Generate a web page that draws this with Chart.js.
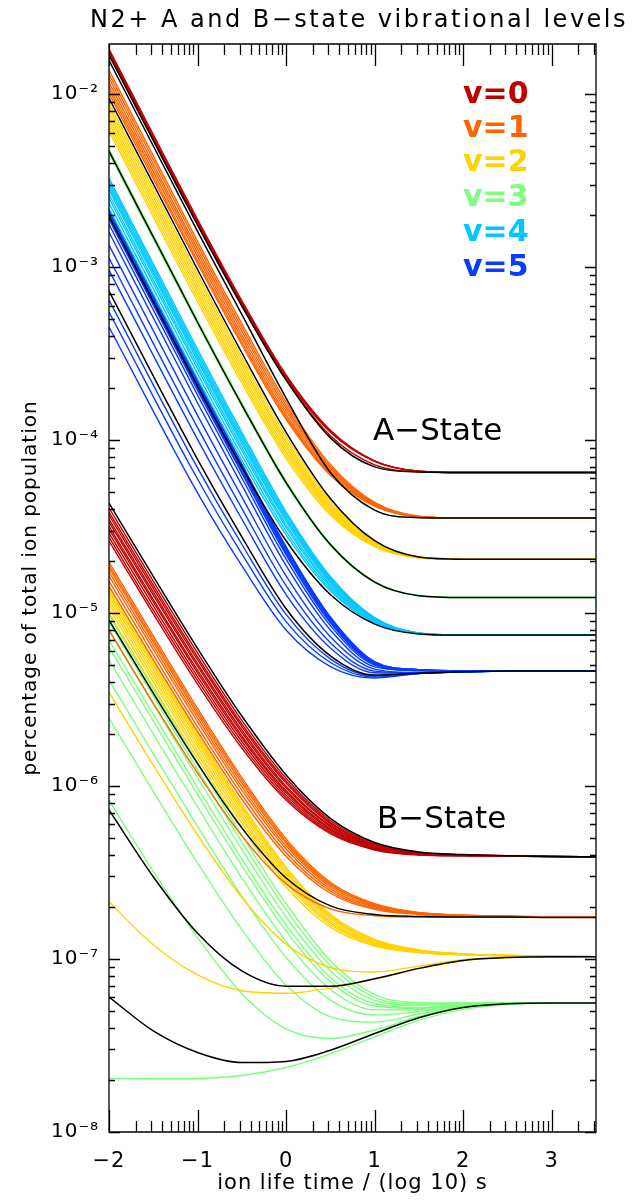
<!DOCTYPE html>
<html><head><meta charset="utf-8">
<script src="https://cdn.jsdelivr.net/npm/chart.js@4.4.1/dist/chart.umd.min.js"></script>
<style>html,body{margin:0;padding:0;background:#fff;}canvas{display:block;}</style>
</head><body>
<canvas id="c" width="632" height="1200"></canvas>
<script>
// ---- data (x = log10 of ion life time in s, y = fraction of total ion population) ----
const logTimeA = [-2, -1, -0.5, 0, 0.5, 1, 1.5, 2, 2.5, 3.5];
const logTimeB = [-2, -1.5, -1, -0.5, 0, 0.5, 1, 1.5, 2, 2.5, 3, 3.5];
const xTickValues = [-2, -1, 0, 1, 2, 3];
const xTickLabels = ['\u22122', '\u22121', '0', '1', '2', '3'];
const yTickValues = [1e-8, 1e-7, 1e-6, 1e-5, 1e-4, 1e-3, 1e-2];
const yTickLabels = ['10\u207B\u2078', '10\u207B\u2077', '10\u207B\u2076', '10\u207B\u2075', '10\u207B\u2074', '10\u207B\u00B3', '10\u207B\u00B2'];
const levelLabels = ['v=0', 'v=1', 'v=2', 'v=3', 'v=4', 'v=5'];
const levelColors = ['#c00000', '#ff6400', '#ffd200', '#7dff7d', '#00c8ff', '#0a3cff'];
const chartTitle = 'N2+ A and B\u2212state vibrational levels';
const xTitle = 'ion life time / (log 10) s';
const yTitle = 'percentage of total ion population';

// A-state (sampled at logTimeA)
const aStateV0 = [
  [1.82e-2, 1.89e-3, 6.40e-4, 2.38e-4, 1.14e-4, 7.59e-5, 6.61e-5, 6.50e-5, 6.5e-5, 6.5e-5],
  [1.77e-2, 1.84e-3, 6.26e-4, 2.34e-4, 1.13e-4, 7.56e-5, 6.61e-5, 6.50e-5, 6.5e-5, 6.5e-5],
  [1.75e-2, 1.81e-3, 6.15e-4, 2.25e-4, 1.06e-4, 7.20e-5, 6.56e-5, 6.50e-5, 6.5e-5, 6.5e-5],
  [1.73e-2, 1.79e-3, 6.11e-4, 2.29e-4, 1.11e-4, 7.54e-5, 6.61e-5, 6.50e-5, 6.5e-5, 6.5e-5]
];
const aStateV0Ref = [1.68e-2, 1.75e-3, 5.96e-4, 2.22e-4, 1.03e-4, 7.00e-5, 6.54e-5, 6.50e-5, 6.5e-5, 6.5e-5];
const aStateV1 = [
  [1.38e-2, 1.41e-3, 4.71e-4, 1.66e-4, 7.24e-5, 4.37e-5, 3.63e-5, 3.54e-5, 3.54e-5, 3.54e-5],
  [1.31e-2, 1.34e-3, 4.48e-4, 1.59e-4, 7.05e-5, 4.32e-5, 3.62e-5, 3.54e-5, 3.54e-5, 3.54e-5],
  [1.24e-2, 1.27e-3, 4.27e-4, 1.53e-4, 6.87e-5, 4.28e-5, 3.62e-5, 3.54e-5, 3.54e-5, 3.54e-5],
  [1.17e-2, 1.21e-3, 4.06e-4, 1.47e-4, 6.70e-5, 4.24e-5, 3.61e-5, 3.54e-5, 3.54e-5, 3.54e-5],
  [1.11e-2, 1.15e-3, 3.87e-4, 1.41e-4, 6.53e-5, 4.21e-5, 3.61e-5, 3.54e-5, 3.54e-5, 3.54e-5],
  [1.06e-2, 1.09e-3, 3.69e-4, 1.36e-4, 6.38e-5, 4.17e-5, 3.61e-5, 3.54e-5, 3.54e-5, 3.54e-5],
  [1.01e-2, 1.05e-3, 3.56e-4, 1.32e-4, 6.27e-5, 4.15e-5, 3.60e-5, 3.54e-5, 3.54e-5, 3.54e-5]
];
const aStateV1Ref = [1.57e-2, 1.61e-3, 5.33e-4, 1.75e-4, 6.50e-5, 3.94e-5, 3.56e-5, 3.54e-5, 3.54e-5, 3.54e-5];
const aStateV2 = [
  [8.87e-3, 9.08e-4, 3.01e-4, 1.05e-4, 4.44e-5, 2.58e-5, 2.11e-5, 2.05e-5, 2.05e-5, 2.05e-5],
  [8.41e-3, 8.62e-4, 2.86e-4, 1.00e-4, 4.31e-5, 2.56e-5, 2.10e-5, 2.05e-5, 2.05e-5, 2.05e-5],
  [7.97e-3, 8.18e-4, 2.73e-4, 9.62e-5, 4.19e-5, 2.53e-5, 2.10e-5, 2.05e-5, 2.05e-5, 2.05e-5],
  [7.56e-3, 7.77e-4, 2.60e-4, 9.23e-5, 4.08e-5, 2.50e-5, 2.10e-5, 2.05e-5, 2.05e-5, 2.05e-5],
  [7.17e-3, 7.38e-4, 2.47e-4, 8.86e-5, 3.98e-5, 2.48e-5, 2.10e-5, 2.05e-5, 2.05e-5, 2.05e-5],
  [6.80e-3, 7.01e-4, 2.36e-4, 8.51e-5, 3.88e-5, 2.46e-5, 2.09e-5, 2.05e-5, 2.05e-5, 2.05e-5],
  [6.45e-3, 6.66e-4, 2.25e-4, 8.18e-5, 3.79e-5, 2.44e-5, 2.09e-5, 2.05e-5, 2.05e-5, 2.05e-5],
  [6.11e-3, 6.32e-4, 2.14e-4, 7.85e-5, 3.69e-5, 2.42e-5, 2.09e-5, 2.05e-5, 2.05e-5, 2.05e-5]
];
const aStateV2Ref = [9.48e-3, 9.69e-4, 3.20e-4, 1.11e-4, 4.60e-5, 2.62e-5, 2.11e-5, 2.05e-5, 2.05e-5, 2.05e-5];
const aStateV3 = [
  [4.81e-3, 4.93e-4, 1.64e-4, 5.80e-5, 2.52e-5, 1.52e-5, 1.26e-5, 1.23e-5, 1.23e-5, 1.23e-5],
  [4.56e-3, 4.68e-4, 1.57e-4, 5.56e-5, 2.46e-5, 1.50e-5, 1.26e-5, 1.23e-5, 1.23e-5, 1.23e-5]
];
const aStateV3Ref = [4.68e-3, 4.80e-4, 1.60e-4, 5.68e-5, 2.49e-5, 1.51e-5, 1.26e-5, 1.23e-5, 1.23e-5, 1.23e-5];
const aStateV4 = [
  [3.27e-3, 3.35e-4, 1.11e-4, 3.85e-5, 1.63e-5, 9.42e-6, 7.67e-6, 7.46e-6, 7.46e-6, 7.46e-6],
  [3.14e-3, 3.22e-4, 1.07e-4, 3.73e-5, 1.59e-5, 9.34e-6, 7.66e-6, 7.46e-6, 7.46e-6, 7.46e-6],
  [3.02e-3, 3.10e-4, 1.03e-4, 3.62e-5, 1.56e-5, 9.27e-6, 7.65e-6, 7.46e-6, 7.46e-6, 7.46e-6],
  [2.90e-3, 2.98e-4, 9.92e-5, 3.50e-5, 1.53e-5, 9.20e-6, 7.64e-6, 7.46e-6, 7.46e-6, 7.46e-6],
  [2.79e-3, 2.87e-4, 9.57e-5, 3.40e-5, 1.50e-5, 9.13e-6, 7.64e-6, 7.46e-6, 7.46e-6, 7.46e-6],
  [2.64e-3, 2.72e-4, 9.10e-5, 3.25e-5, 1.46e-5, 9.04e-6, 7.63e-6, 7.46e-6, 7.46e-6, 7.46e-6],
  [2.51e-3, 2.59e-4, 8.69e-5, 3.13e-5, 1.42e-5, 8.97e-6, 7.62e-6, 7.46e-6, 7.46e-6, 7.46e-6],
  [2.34e-3, 2.42e-4, 8.15e-5, 2.97e-5, 1.38e-5, 8.86e-6, 7.61e-6, 7.46e-6, 7.46e-6, 7.46e-6],
  [2.19e-3, 2.27e-4, 7.67e-5, 2.83e-5, 1.34e-5, 8.77e-6, 7.60e-6, 7.46e-6, 7.46e-6, 7.46e-6]
];
const aStateV4Ref = [1.97e-3, 2.05e-4, 6.98e-5, 2.62e-5, 1.28e-5, 8.64e-6, 7.58e-6, 7.46e-6, 7.46e-6, 7.46e-6];
const aStateV5 = [
  [2.16e-3, 2.21e-4, 7.29e-5, 2.42e-5, 9.51e-6, 5.24e-6, 4.70e-6, 4.63e-6, 4.63e-6, 4.63e-6],
  [2.12e-3, 2.17e-4, 7.16e-5, 2.38e-5, 9.40e-6, 5.21e-6, 4.70e-6, 4.63e-6, 4.63e-6, 4.63e-6],
  [2.08e-3, 2.13e-4, 7.04e-5, 2.35e-5, 9.30e-6, 5.19e-6, 4.70e-6, 4.63e-6, 4.63e-6, 4.63e-6],
  [2.04e-3, 2.09e-4, 6.91e-5, 2.31e-5, 9.19e-6, 5.16e-6, 4.69e-6, 4.63e-6, 4.63e-6, 4.63e-6],
  [2.00e-3, 2.05e-4, 6.79e-5, 2.27e-5, 9.08e-6, 5.14e-6, 4.69e-6, 4.63e-6, 4.63e-6, 4.63e-6],
  [1.94e-3, 1.99e-4, 6.59e-5, 2.21e-5, 8.92e-6, 5.10e-6, 4.68e-6, 4.63e-6, 4.63e-6, 4.63e-6],
  [1.89e-3, 1.94e-4, 6.44e-5, 2.17e-5, 8.78e-6, 5.07e-6, 4.68e-6, 4.63e-6, 4.63e-6, 4.63e-6],
  [1.77e-3, 1.82e-4, 6.06e-5, 2.05e-5, 8.46e-6, 5.00e-6, 4.65e-6, 4.63e-6, 4.63e-6, 4.63e-6],
  [1.59e-3, 1.64e-4, 5.49e-5, 1.88e-5, 7.98e-6, 4.89e-6, 4.64e-6, 4.63e-6, 4.63e-6, 4.63e-6],
  [1.34e-3, 1.39e-4, 4.70e-5, 1.64e-5, 7.30e-6, 4.74e-6, 4.52e-6, 4.58e-6, 4.63e-6, 4.63e-6],
  [1.13e-3, 1.18e-4, 4.03e-5, 1.44e-5, 6.74e-6, 4.62e-6, 4.51e-6, 4.58e-6, 4.63e-6, 4.63e-6],
  [9.61e-4, 1.01e-4, 3.50e-5, 1.28e-5, 6.29e-6, 4.52e-6, 4.50e-6, 4.58e-6, 4.63e-6, 4.63e-6],
  [6.45e-4, 6.91e-5, 2.50e-5, 9.83e-6, 5.44e-6, 4.33e-6, 4.48e-6, 4.58e-6, 4.63e-6, 4.63e-6],
  [5.50e-4, 5.96e-5, 2.20e-5, 8.93e-6, 5.18e-6, 4.27e-6, 4.47e-6, 4.58e-6, 4.63e-6, 4.63e-6],
  [4.50e-4, 4.96e-5, 1.88e-5, 7.98e-6, 4.91e-6, 4.21e-6, 4.47e-6, 4.58e-6, 4.63e-6, 4.63e-6]
];
const aStateV5Ref = [7.27e-4, 7.73e-5, 2.76e-5, 1.06e-5, 5.66e-6, 4.38e-6, 4.49e-6, 4.58e-6, 4.63e-6, 4.63e-6];

// B-state (sampled at logTimeB)
const bStateV0 = [
  [4.05e-5, 1.53e-5, 5.88e-6, 2.40e-6, 1.11e-6, 6.32e-7, 4.65e-7, 4.13e-7, 4.01e-7, 3.95e-7, 3.92e-7, 3.9e-7],
  [3.84e-5, 1.45e-5, 5.59e-6, 2.29e-6, 1.07e-6, 6.17e-7, 4.59e-7, 4.11e-7, 4.00e-7, 3.95e-7, 3.92e-7, 3.9e-7],
  [3.69e-5, 1.39e-5, 5.38e-6, 2.21e-6, 1.04e-6, 6.06e-7, 4.55e-7, 4.10e-7, 3.99e-7, 3.95e-7, 3.92e-7, 3.9e-7],
  [3.49e-5, 1.32e-5, 5.10e-6, 2.11e-6, 9.98e-7, 5.92e-7, 4.50e-7, 4.08e-7, 3.99e-7, 3.95e-7, 3.92e-7, 3.9e-7],
  [3.36e-5, 1.27e-5, 4.93e-6, 2.04e-6, 9.73e-7, 5.83e-7, 4.47e-7, 4.07e-7, 3.98e-7, 3.94e-7, 3.92e-7, 3.9e-7],
  [3.18e-5, 1.20e-5, 4.68e-6, 1.95e-6, 9.39e-7, 5.70e-7, 4.42e-7, 4.05e-7, 3.97e-7, 3.94e-7, 3.91e-7, 3.9e-7],
  [3.06e-5, 1.16e-5, 4.51e-6, 1.89e-6, 9.16e-7, 5.62e-7, 4.39e-7, 4.04e-7, 3.97e-7, 3.94e-7, 3.91e-7, 3.9e-7],
  [2.90e-5, 1.10e-5, 4.29e-6, 1.81e-6, 8.86e-7, 5.50e-7, 4.35e-7, 4.02e-7, 3.96e-7, 3.94e-7, 3.91e-7, 3.9e-7],
  [2.75e-5, 1.04e-5, 4.08e-6, 1.73e-6, 8.57e-7, 5.40e-7, 4.31e-7, 4.01e-7, 3.96e-7, 3.94e-7, 3.91e-7, 3.9e-7],
  [2.61e-5, 9.91e-6, 3.89e-6, 1.66e-6, 8.30e-7, 5.30e-7, 4.27e-7, 3.99e-7, 3.95e-7, 3.93e-7, 3.91e-7, 3.9e-7]
];
const bStateV0Ref = [4.32e-5, 1.63e-5, 6.25e-6, 2.54e-6, 1.16e-6, 6.51e-7, 4.72e-7, 4.16e-7, 4.02e-7, 3.96e-7, 3.92e-7, 3.9e-7];
const bStateV1 = [
  [1.97e-5, 7.38e-6, 2.81e-6, 1.12e-6, 4.95e-7, 2.78e-7, 2.09e-7, 1.86e-7, 1.79e-7, 1.77e-7, 1.75e-7, 1.74e-7],
  [1.89e-5, 7.08e-6, 2.70e-6, 1.08e-6, 4.80e-7, 2.72e-7, 2.06e-7, 1.85e-7, 1.79e-7, 1.77e-7, 1.75e-7, 1.74e-7],
  [1.82e-5, 6.82e-6, 2.60e-6, 1.04e-6, 4.67e-7, 2.67e-7, 2.05e-7, 1.85e-7, 1.79e-7, 1.76e-7, 1.75e-7, 1.74e-7],
  [1.73e-5, 6.49e-6, 2.48e-6, 9.93e-7, 4.50e-7, 2.61e-7, 2.02e-7, 1.84e-7, 1.78e-7, 1.76e-7, 1.75e-7, 1.74e-7],
  [1.64e-5, 6.16e-6, 2.36e-6, 9.47e-7, 4.33e-7, 2.54e-7, 2.00e-7, 1.83e-7, 1.78e-7, 1.76e-7, 1.75e-7, 1.74e-7],
  [1.53e-5, 5.75e-6, 2.20e-6, 8.91e-7, 4.12e-7, 2.47e-7, 1.97e-7, 1.82e-7, 1.78e-7, 1.76e-7, 1.75e-7, 1.74e-7],
  [1.43e-5, 5.38e-6, 2.07e-6, 8.39e-7, 3.93e-7, 2.40e-7, 1.94e-7, 1.81e-7, 1.77e-7, 1.76e-7, 1.75e-7, 1.74e-7],
  [7.97e-6, 3.02e-6, 1.19e-6, 5.15e-7, 2.72e-7, 1.95e-7, 1.78e-7, 1.75e-7, 1.75e-7, 1.75e-7, 1.74e-7, 1.74e-7]
];
const bStateV1Ref = [9.11e-6, 3.45e-6, 1.35e-6, 5.73e-7, 2.94e-7, 2.03e-7, 1.81e-7, 1.76e-7, 1.75e-7, 1.75e-7, 1.74e-7, 1.74e-7];
const bStateV2 = [
  [1.41e-5, 5.28e-6, 2.00e-6, 7.86e-7, 3.40e-7, 1.82e-7, 1.30e-7, 1.13e-7, 1.07e-7, 1.05e-7, 1.04e-7, 1.03e-7],
  [1.36e-5, 5.09e-6, 1.93e-6, 7.61e-7, 3.30e-7, 1.78e-7, 1.28e-7, 1.12e-7, 1.07e-7, 1.05e-7, 1.04e-7, 1.03e-7],
  [1.31e-5, 4.90e-6, 1.86e-6, 7.35e-7, 3.20e-7, 1.75e-7, 1.27e-7, 1.12e-7, 1.07e-7, 1.05e-7, 1.04e-7, 1.03e-7],
  [1.25e-5, 4.68e-6, 1.78e-6, 7.04e-7, 3.09e-7, 1.71e-7, 1.25e-7, 1.11e-7, 1.06e-7, 1.05e-7, 1.04e-7, 1.03e-7],
  [1.19e-5, 4.46e-6, 1.70e-6, 6.73e-7, 2.98e-7, 1.66e-7, 1.24e-7, 1.11e-7, 1.06e-7, 1.05e-7, 1.04e-7, 1.03e-7],
  [1.13e-5, 4.24e-6, 1.61e-6, 6.43e-7, 2.86e-7, 1.62e-7, 1.22e-7, 1.10e-7, 1.06e-7, 1.05e-7, 1.04e-7, 1.03e-7],
  [1.07e-5, 4.01e-6, 1.53e-6, 6.12e-7, 2.75e-7, 1.58e-7, 1.21e-7, 1.09e-7, 1.06e-7, 1.04e-7, 1.03e-7, 1.03e-7],
  [1.00e-5, 3.75e-6, 1.44e-6, 5.76e-7, 2.61e-7, 1.53e-7, 1.19e-7, 1.09e-7, 1.06e-7, 1.04e-7, 1.03e-7, 1.03e-7],
  [3.49e-6, 1.32e-6, 5.22e-7, 2.27e-7, 1.22e-7, 8.93e-8, 8.42e-8, 9.10e-8, 9.91e-8, 1.02e-7, 1.03e-7, 1.03e-7],
  [2.14e-7, 1.21e-7, 8.10e-8, 6.55e-8, 6.34e-8, 6.79e-8, 7.65e-8, 8.80e-8, 9.80e-8, 1.02e-7, 1.03e-7, 1.03e-7]
];
const bStateV2Ref = [7.27e-7, 2.99e-7, 1.41e-7, 8.54e-8, 6.97e-8, 6.97e-8, 7.70e-8, 8.83e-8, 9.80e-8, 1.02e-7, 1.03e-7, 1.03e-7];
const bStateV3 = [
  [9.73e-6, 3.63e-6, 1.36e-6, 5.20e-7, 2.09e-7, 9.77e-8, 6.23e-8, 5.60e-8, 5.57e-8, 5.57e-8, 5.57e-8, 5.57e-8],
  [8.87e-6, 3.31e-6, 1.24e-6, 4.76e-7, 1.93e-7, 9.17e-8, 6.01e-8, 5.50e-8, 5.56e-8, 5.57e-8, 5.57e-8, 5.57e-8],
  [7.97e-6, 2.97e-6, 1.12e-6, 4.30e-7, 1.75e-7, 8.53e-8, 5.77e-8, 5.40e-8, 5.53e-8, 5.57e-8, 5.57e-8, 5.57e-8],
  [6.98e-6, 2.61e-6, 9.81e-7, 3.79e-7, 1.57e-7, 7.83e-8, 5.51e-8, 5.25e-8, 5.49e-8, 5.56e-8, 5.57e-8, 5.57e-8],
  [6.36e-6, 2.38e-6, 8.96e-7, 3.47e-7, 1.45e-7, 7.39e-8, 5.35e-8, 5.19e-8, 5.47e-8, 5.56e-8, 5.57e-8, 5.57e-8],
  [5.35e-6, 2.00e-6, 7.57e-7, 2.95e-7, 1.26e-7, 6.67e-8, 5.08e-8, 5.09e-8, 5.43e-8, 5.55e-8, 5.57e-8, 5.57e-8],
  [4.10e-6, 1.54e-6, 5.84e-7, 2.31e-7, 1.02e-7, 5.79e-8, 4.75e-8, 4.97e-8, 5.39e-8, 5.55e-8, 5.57e-8, 5.57e-8],
  [2.47e-6, 9.31e-7, 3.59e-7, 1.48e-7, 7.07e-8, 4.63e-8, 4.32e-8, 4.81e-8, 5.33e-8, 5.54e-8, 5.57e-8, 5.57e-8],
  [8.30e-7, 3.21e-7, 1.33e-7, 6.32e-8, 3.94e-8, 3.47e-8, 3.89e-8, 4.65e-8, 5.27e-8, 5.52e-8, 5.57e-8, 5.57e-8],
  [2.05e-8, 2.03e-8, 2.04e-8, 2.12e-8, 2.36e-8, 2.83e-8, 3.55e-8, 4.42e-8, 5.12e-8, 5.46e-8, 5.56e-8, 5.57e-8]
];
const bStateV3Ref = [6.03e-8, 3.84e-8, 2.88e-8, 2.52e-8, 2.56e-8, 2.97e-8, 3.71e-8, 4.58e-8, 5.25e-8, 5.51e-8, 5.57e-8, 5.57e-8];

// ---- build datasets ----
const datasets = [];
function addSeries(xs, list, color, width, order) {
  list.forEach(vals => datasets.push({
    data: vals.map((v, i) => ({ x: xs[i], y: v })),
    borderColor: color, borderWidth: width, pointRadius: 0,
    cubicInterpolationMode: 'monotone', fill: false, order: order
  }));
}
[[aStateV0, 0], [aStateV1, 1], [aStateV2, 2], [aStateV3, 3], [aStateV4, 4], [aStateV5, 5]]
  .forEach(([list, lv]) => addSeries(logTimeA, list, levelColors[lv], 1.4, 2));
[[bStateV0, 0], [bStateV1, 1], [bStateV2, 2], [bStateV3, 3]]
  .forEach(([list, lv]) => addSeries(logTimeB, list, levelColors[lv], 1.4, 2));
addSeries(logTimeA, [aStateV0Ref, aStateV1Ref, aStateV2Ref, aStateV3Ref, aStateV4Ref, aStateV5Ref], '#000000', 1.5, 1);
addSeries(logTimeB, [bStateV0Ref, bStateV1Ref, bStateV2Ref, bStateV3Ref], '#000000', 1.5, 1);

const FONT = '"DejaVu Sans", sans-serif';
Chart.defaults.font.family = FONT;
Chart.defaults.color = '#000';

const framePlugin = {
  id: 'frame',
  beforeDraw(chart) { chart.ctx.letterSpacing = '1px'; },
  afterDatasetsDraw(chart) {
    const { ctx, chartArea: a, scales: { x, y } } = chart;
    ctx.save();
    ctx.strokeStyle = '#000';
    ctx.lineWidth = 1.3;
    ctx.beginPath();
    ctx.rect(a.left, a.top, a.right - a.left, a.bottom - a.top);
    const seg = (x1, y1, x2, y2) => { ctx.moveTo(x1, y1); ctx.lineTo(x2, y2); };
    for (let i = -2; i <= 3; i++) {
      for (let k = 1; k <= 9; k++) {
        const v = i + Math.log10(k);
        if (v > x.max + 1e-9) continue;
        const px = Math.round(x.getPixelForValue(v)) + 0.5;
        const len = k === 1 ? 22 : 11;
        seg(px, a.bottom, px, a.bottom - len);
        seg(px, a.top, px, a.top + len);
      }
    }
    for (let e = -8; e <= -2; e++) {
      for (let k = 1; k <= 9; k++) {
        const v = k * Math.pow(10, e);
        if (v > y.max) continue;
        const py = Math.round(y.getPixelForValue(v)) + 0.5;
        const len = k === 1 ? 11 : 6;
        seg(a.left, py, a.left + len, py);
        seg(a.right, py, a.right - len, py);
      }
    }
    ctx.stroke();
    ctx.restore();
  },
  afterDraw(chart) {
    const ctx = chart.ctx;
    ctx.save();
    ctx.textBaseline = 'middle';
    ctx.textAlign = 'left';
    ctx.fillStyle = '#000';
    ctx.font = '24px ' + FONT;
    ctx.letterSpacing = '2.5px';
    ctx.fillText(chartTitle, 90, 21);
    ctx.letterSpacing = '0px';
    ctx.font = '31px ' + FONT;
    ctx.fillText('A\u2212State', 373, 432);
    ctx.fillText('B\u2212State', 377, 820);
    ctx.font = 'bold 30px ' + FONT;
    const ly = [95, 129, 163, 198, 233, 268];
    levelLabels.forEach((t, i) => { ctx.fillStyle = levelColors[i]; ctx.fillText(t, 463, ly[i]); });
    ctx.restore();
  }
};

new Chart(document.getElementById('c'), {
  type: 'line',
  data: { datasets },
  options: {
    responsive: false, animation: false, devicePixelRatio: 1,
    layout: { padding: { top: 44, right: 36, left: 0, bottom: 0 } },
    plugins: { legend: { display: false }, tooltip: { enabled: false }, title: { display: false } },
    scales: {
      x: {
        type: 'linear', min: -2, max: 3.5,
        afterBuildTicks: s => { s.ticks = xTickValues.map(v => ({ value: v })); },
        afterFit: s => { s.height = 68; },
        ticks: { callback: (v, i) => xTickLabels[i], font: { size: 21 }, color: '#000', padding: 17, maxRotation: 0, autoSkip: false },
        grid: { display: false, drawTicks: false }, border: { display: false },
        title: { display: true, text: xTitle, font: { size: 21 }, color: '#000', padding: { top: 0, bottom: 4 } }
      },
      y: {
        type: 'logarithmic', min: 1e-8, max: 1.95e-2,
        afterBuildTicks: s => { s.ticks = yTickValues.map(v => ({ value: v })); },
        afterFit: s => { s.width = 109; },
        ticks: { callback: (v, i) => yTickLabels[i], font: { size: 20 }, color: '#000', padding: 10, autoSkip: false },
        grid: { display: false, drawTicks: false }, border: { display: false },
        title: { display: true, text: yTitle, font: { size: 20 }, color: '#000', padding: { top: 19, bottom: 0 } }
      }
    }
  },
  plugins: [framePlugin]
});
</script>
</body></html>
